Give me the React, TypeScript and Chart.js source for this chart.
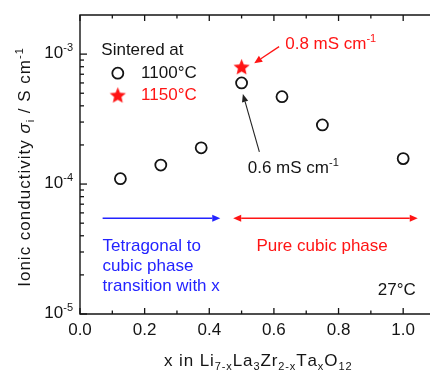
import React, { useEffect, useRef } from 'react';
import { Chart, registerables } from 'chart.js';

Chart.register(...registerables);

// ---------------- data ----------------
const xComposition = [0.125, 0.25, 0.375, 0.5, 0.625, 0.75, 1.0];
const sigma1100C = [1.1e-4, 1.4e-4, 1.9e-4, 6.0e-4, 4.7e-4, 2.85e-4, 1.57e-4];
const xComposition1150 = [0.5];
const sigma1150C = [8.0e-4];

const xMajorTicks = [0, 0.2, 0.4, 0.6, 0.8, 1.0];
const xTickLabels = ['0.0', '0.2', '0.4', '0.6', '0.8', '1.0'];
const xMinorTicks = [0.1, 0.3, 0.5, 0.7, 0.9];
const yMajorTicks = [1e-5, 1e-4, 1e-3];
const yTickExponents = ['-5', '-4', '-3'];
const yMinorMantissas = [2, 3, 4, 5, 6, 7, 8, 9];

const X_MIN = 0;
const X_MAX = 1.1;
const Y_MIN = 1e-5;
const Y_MAX = 2e-3;

// ---------------- style ----------------
const FONT = "'Liberation Sans', Arial, Helvetica, sans-serif";
const BLACK = '#141414';
const RED = '#ff1414';
const BLUE = '#2323ff';

type Seg = { t: string; size?: number; italic?: boolean; dy?: number };

function segFont(s: Seg, base: number) {
  return `${s.italic ? 'italic ' : ''}${s.size ?? base}px ${FONT}`;
}

function measureRich(ctx: CanvasRenderingContext2D, segs: Seg[], base: number, ls: number) {
  let w = 0;
  for (const s of segs) {
    ctx.font = segFont(s, base);
    if (ls === 0) w += ctx.measureText(s.t).width;
    else for (const ch of s.t) w += ctx.measureText(ch).width + ls;
  }
  return ls === 0 ? w : w - ls;
}

function drawRich(
  ctx: CanvasRenderingContext2D,
  segs: Seg[],
  x: number,
  y: number,
  base: number,
  ls: number,
  align: 'left' | 'center' | 'right' = 'left'
) {
  const w = measureRich(ctx, segs, base, ls);
  let cx = align === 'left' ? x : align === 'center' ? x - w / 2 : x - w;
  ctx.textAlign = 'left';
  ctx.textBaseline = 'alphabetic';
  for (const s of segs) {
    ctx.font = segFont(s, base);
    if (ls === 0) {
      ctx.fillText(s.t, cx, y + (s.dy ?? 0));
      cx += ctx.measureText(s.t).width;
    } else {
      for (const ch of s.t) {
        ctx.fillText(ch, cx, y + (s.dy ?? 0));
        cx += ctx.measureText(ch).width + ls;
      }
    }
  }
}

function arrowHead(ctx: CanvasRenderingContext2D, tipX: number, tipY: number, fromX: number, fromY: number, len: number, halfW: number) {
  const a = Math.atan2(tipY - fromY, tipX - fromX);
  const bx = tipX - len * Math.cos(a);
  const by = tipY - len * Math.sin(a);
  ctx.beginPath();
  ctx.moveTo(tipX, tipY);
  ctx.lineTo(bx + halfW * Math.sin(a), by - halfW * Math.cos(a));
  ctx.lineTo(bx - halfW * Math.sin(a), by + halfW * Math.cos(a));
  ctx.closePath();
  ctx.fill();
  return [bx, by];
}

function drawArrow(
  ctx: CanvasRenderingContext2D,
  x1: number, y1: number, x2: number, y2: number,
  color: string, lw: number, len: number, halfW: number, both = false
) {
  ctx.save();
  ctx.strokeStyle = color;
  ctx.fillStyle = color;
  ctx.lineWidth = lw;
  const [ex, ey] = arrowHead(ctx, x2, y2, x1, y1, len, halfW);
  let sx = x1, sy = y1;
  if (both) {
    const r = arrowHead(ctx, x1, y1, x2, y2, len, halfW);
    sx = r[0]; sy = r[1];
  }
  ctx.beginPath();
  ctx.moveTo(sx, sy);
  ctx.lineTo(ex, ey);
  ctx.stroke();
  ctx.restore();
}

function makeStar(r: number, color: string) {
  const size = Math.ceil(r * 2 + 2);
  const c = document.createElement('canvas');
  c.width = size;
  c.height = size;
  const g = c.getContext('2d')!;
  g.fillStyle = color;
  g.beginPath();
  const cy = size / 2 + r * 0.1;
  for (let i = 0; i < 10; i++) {
    const ang = -Math.PI / 2 + (i * Math.PI) / 5;
    const rr = i % 2 === 0 ? r : r * 0.45;
    g.lineTo(size / 2 + rr * Math.cos(ang), cy + rr * Math.sin(ang));
  }
  g.closePath();
  g.fill();
  return c;
}

// ---------------- annotation anchors (data coordinates) ----------------
const legendTitlePos = { x: 0.066, y: 1.064e-3 };
const legendCirclePos = { x: 0.117, y: 7.13e-4 };
const legendStarPos = { x: 0.117, y: 4.85e-4 };
const legendTextX = 0.189;

const redArrow = { x1: 0.616, y1: 1.142e-3, x2: 0.539, y2: 8.51e-4 };
const blackArrow = { x1: 0.555, y1: 1.77e-4, x2: 0.504, y2: 4.93e-4 };
const blueArrow = { x1: 0.07, x2: 0.434, y: 5.46e-5 };
const redDoubleArrow = { x1: 0.474, x2: 1.045, y: 5.46e-5 };

const label08Pos = { x: 0.635, y: 1.22e-3 };
const label06Pos = { x: 0.519, y: 1.355e-4 };
const tetragonalLines = ['Tetragonal to', 'cubic phase', 'transition with x'];
const tetragonalPos = { x: 0.07, y: 3.3e-5 };
const pureCubicPos = { x: 0.749, y: 3.3e-5 };
const tempPos = { x: 1.039, y: 1.53e-5 };

export default function App() {
  const canvasRef = useRef<HTMLCanvasElement | null>(null);

  useEffect(() => {
    const canvas = canvasRef.current;
    if (!canvas) return;
    const star = makeStar(8.5, RED);

    const decor = {
      id: 'decor',
      beforeDatasetsDraw(chart: any) {
        const ctx: CanvasRenderingContext2D = chart.ctx;
        const a = chart.chartArea;
        const xs = chart.scales.x;
        const ys = chart.scales.y;
        ctx.save();
        ctx.fillStyle = '#ffffff';
        ctx.fillRect(0, 0, chart.width, chart.height);
        // frame
        ctx.strokeStyle = BLACK;
        ctx.lineWidth = 1.4;
        ctx.beginPath();
        ctx.rect(a.left, a.top, a.right - a.left, a.bottom - a.top);
        ctx.stroke();
        // x ticks (bottom and top, inward)
        ctx.lineWidth = 1.3;
        const drawXTick = (v: number, len: number) => {
          const px = xs.getPixelForValue(v);
          ctx.beginPath();
          ctx.moveTo(px, a.bottom);
          ctx.lineTo(px, a.bottom - len);
          ctx.moveTo(px, a.top);
          ctx.lineTo(px, a.top + len);
          ctx.stroke();
        };
        xMajorTicks.forEach((v) => drawXTick(v, 6));
        xMinorTicks.forEach((v) => drawXTick(v, 3.5));
        // y ticks (left, inward)
        const drawYTick = (v: number, len: number) => {
          const py = ys.getPixelForValue(v);
          ctx.beginPath();
          ctx.moveTo(a.left, py);
          ctx.lineTo(a.left + len, py);
          ctx.stroke();
        };
        yMajorTicks.forEach((v) => drawYTick(v, 7));
        yMajorTicks.slice(0, -1).forEach((d) => yMinorMantissas.forEach((m) => drawYTick(d * m, 4)));
        // x tick labels
        ctx.fillStyle = BLACK;
        ctx.font = `17px ${FONT}`;
        ctx.textAlign = 'center';
        ctx.textBaseline = 'middle';
        xMajorTicks.forEach((v, i) => ctx.fillText(xTickLabels[i], xs.getPixelForValue(v), a.bottom + 16.5));
        // y tick labels
        yMajorTicks.forEach((v, i) => {
          const py = ys.getPixelForValue(v);
          drawRich(ctx, [{ t: '10' }, { t: yTickExponents[i], size: 11, dy: -7 }], a.left - 7, py + 3.5, 17, 0, 'right');
        });
        // y title
        ctx.save();
        ctx.translate(29.5, (a.top + a.bottom) / 2 + 3);
        ctx.rotate(-Math.PI / 2);
        drawRich(
          ctx,
          [
            { t: 'Ionic conductivity ' },
            { t: 'σ', italic: true },
            { t: 'i', size: 11, dy: 4 },
            { t: ' / S cm' },
            { t: '-1', size: 11, dy: -7 },
          ],
          0, 0, 17, 1, 'center'
        );
        ctx.restore();
        // x title
        drawRich(
          ctx,
          [
            { t: 'x in Li' },
            { t: '7-x', size: 11, dy: 4 },
            { t: 'La' },
            { t: '3', size: 11, dy: 4 },
            { t: 'Zr' },
            { t: '2-x', size: 11, dy: 4 },
            { t: 'Ta' },
            { t: 'x', size: 11, dy: 4 },
            { t: 'O' },
            { t: '12', size: 11, dy: 4 },
          ],
          (a.left + a.right) / 2, 366, 17, 0.9, 'center'
        );
        ctx.restore();
      },
      afterDatasetsDraw(chart: any) {
        const ctx: CanvasRenderingContext2D = chart.ctx;
        const xs = chart.scales.x;
        const ys = chart.scales.y;
        const X = (v: number) => xs.getPixelForValue(v);
        const Y = (v: number) => ys.getPixelForValue(v);
        ctx.save();
        // legend
        ctx.fillStyle = BLACK;
        ctx.font = `17px ${FONT}`;
        ctx.textAlign = 'left';
        ctx.textBaseline = 'middle';
        ctx.fillText('Sintered at', X(legendTitlePos.x), Y(legendTitlePos.y));
        ctx.strokeStyle = BLACK;
        ctx.lineWidth = 1.8;
        ctx.beginPath();
        ctx.arc(X(legendCirclePos.x), Y(legendCirclePos.y), 5.5, 0, Math.PI * 2);
        ctx.stroke();
        ctx.fillText('1100°C', X(legendTextX), Y(legendCirclePos.y));
        ctx.drawImage(star, X(legendStarPos.x) - star.width / 2, Y(legendStarPos.y) - star.height / 2);
        ctx.fillStyle = RED;
        ctx.fillText('1150°C', X(legendTextX), Y(legendStarPos.y));

        // arrows
        drawArrow(ctx, X(redArrow.x1), Y(redArrow.y1), X(redArrow.x2), Y(redArrow.y2), RED, 1.3, 8, 3.5);
        drawArrow(ctx, X(blackArrow.x1), Y(blackArrow.y1), X(blackArrow.x2), Y(blackArrow.y2), '#222', 1.1, 8, 3.2);
        drawArrow(ctx, X(blueArrow.x1), Y(blueArrow.y), X(blueArrow.x2), Y(blueArrow.y), BLUE, 1.5, 8, 3.5);
        drawArrow(ctx, X(redDoubleArrow.x1), Y(redDoubleArrow.y), X(redDoubleArrow.x2), Y(redDoubleArrow.y), RED, 1.5, 8, 3.5, true);

        // value labels
        ctx.fillStyle = RED;
        drawRich(ctx, [{ t: '0.8 mS cm' }, { t: '-1', size: 11, dy: -7 }], X(label08Pos.x), Y(label08Pos.y) + 6, 17, 0, 'left');
        ctx.fillStyle = BLACK;
        drawRich(ctx, [{ t: '0.6 mS cm' }, { t: '-1', size: 11, dy: -7 }], X(label06Pos.x), Y(label06Pos.y) + 6, 17, 0, 'left');

        // region labels
        ctx.font = `17px ${FONT}`;
        ctx.textBaseline = 'middle';
        ctx.fillStyle = BLUE;
        ctx.textAlign = 'left';
        tetragonalLines.forEach((line, i) => ctx.fillText(line, X(tetragonalPos.x), Y(tetragonalPos.y) + i * 20));
        ctx.fillStyle = RED;
        ctx.textAlign = 'center';
        ctx.fillText('Pure cubic phase', X(pureCubicPos.x), Y(pureCubicPos.y));
        ctx.fillStyle = BLACK;
        ctx.textAlign = 'right';
        ctx.fillText('27°C', X(tempPos.x), Y(tempPos.y));
        ctx.restore();
      },
    };

    const chart = new Chart(canvas, {
      type: 'scatter',
      data: {
        datasets: [
          {
            label: '1100°C',
            data: xComposition.map((x, i) => ({ x, y: sigma1100C[i] })),
            pointStyle: 'circle',
            pointRadius: 5.5,
            pointBorderWidth: 1.8,
            borderColor: BLACK,
            backgroundColor: 'rgba(255,255,255,0)',
            showLine: false,
          },
          {
            label: '1150°C',
            data: xComposition1150.map((x, i) => ({ x, y: sigma1150C[i] })),
            pointStyle: star as any,
            pointRadius: 8.5,
            borderColor: RED,
            backgroundColor: RED,
            showLine: false,
          },
        ],
      },
      options: {
        responsive: false,
        animation: false,
        devicePixelRatio: 1,
        layout: { padding: { left: 0, right: 0, top: 15, bottom: 0 } },
        plugins: { legend: { display: false }, tooltip: { enabled: false } },
        scales: {
          x: {
            type: 'linear',
            min: X_MIN,
            max: X_MAX,
            ticks: { display: false },
            grid: { display: false },
            border: { display: false },
            afterFit: (s: any) => { s.height = 57; },
          },
          y: {
            type: 'logarithmic',
            min: Y_MIN,
            max: Y_MAX,
            ticks: { display: false },
            grid: { display: false },
            border: { display: false },
            afterFit: (s: any) => { s.width = 80; },
          },
        },
      } as any,
      plugins: [decor],
    });
    return () => chart.destroy();
  }, []);

  return (
    <div style={{ position: 'absolute', left: 0, top: 0, width: 430, height: 371, overflow: 'hidden', background: '#fff' }}>
      <canvas ref={canvasRef} width={445} height={371} style={{ width: 445, height: 371, display: 'block' }} />
    </div>
  );
}
